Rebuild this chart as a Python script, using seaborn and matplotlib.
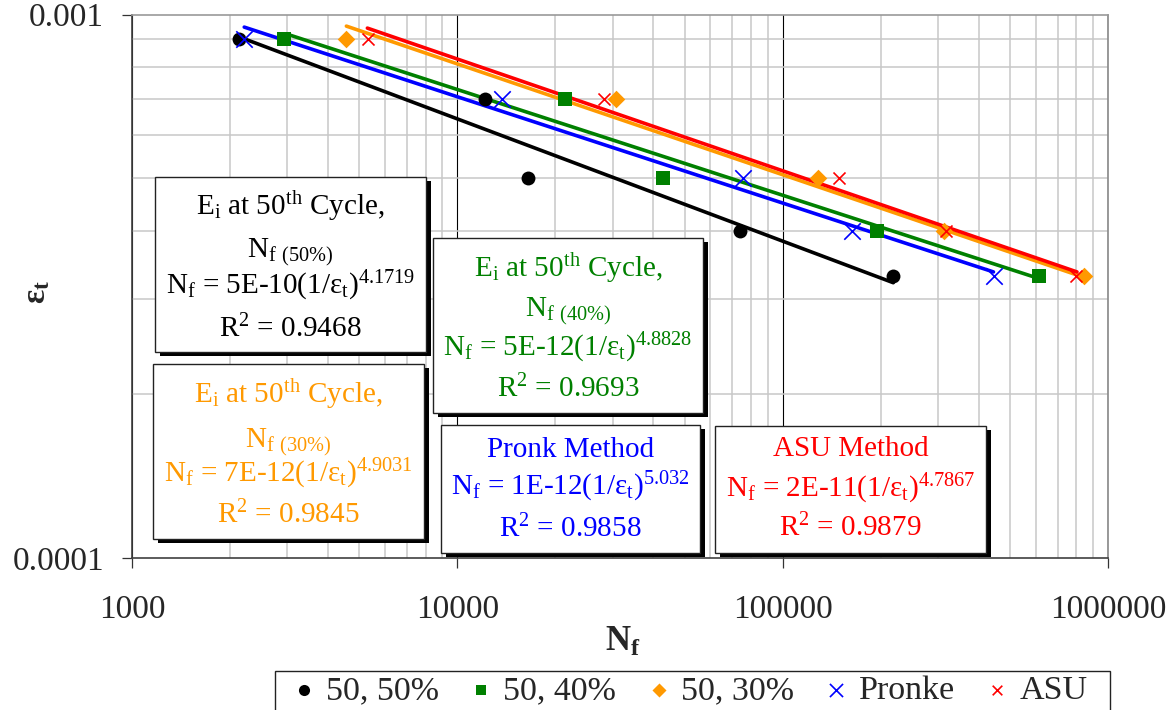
import matplotlib
matplotlib.use("Agg")
import matplotlib.pyplot as plt
import seaborn as sns
from matplotlib.patches import Rectangle
from matplotlib.ticker import FixedLocator, FixedFormatter, LogLocator, NullFormatter

# ---------------------------------------------------------------- data
# tensile strain levels used for every test series
strain = [0.0009, 0.0007, 0.0005, 0.0004, 0.00033]

# cycles to failure at each strain level
nf_50_50 = [2140, 12140, 16500, 73970, 217900]
nf_50_40 = [2940, 21500, 42950, 195000, 613000]
nf_50_30 = [4550, 30660, 128800, 314000, 843000]
nf_pronk = [2210, 13760, 75500, 163300, 445600]
nf_asu = [5330, 28200, 149300, 318000, 799000]

# power-law fatigue trend lines, end points (Nf, strain)
trend_50_50_nf = [2140, 218800]
trend_50_50_eps = [0.000909, 0.000321]
trend_50_40_nf = [2980, 606000]
trend_50_40_eps = [0.000921, 0.0003275]
trend_50_30_nf = [4560, 836000]
trend_50_30_eps = [0.000952, 0.0003290]
trend_pronk_nf = [2213, 444600]
trend_pronk_eps = [0.000948, 0.000336]
trend_asu_nf = [5290, 803000]
trend_asu_eps = [0.000944, 0.000336]

series_labels = ["50, 50%", "50, 40%", "50, 30%", "Pronke", "ASU"]

x_ticks = [1000, 10000, 100000, 1000000]
x_tick_labels = ["1000", "10000", "100000", "1000000"]
y_ticks = [0.0001, 0.001]
y_tick_labels = ["0.0001", "0.001"]

# fatigue model text boxes
box_50_50 = ["E$_i$ at 50$^{th}$ Cycle,", r"N$_{f\ (50\%)}$",
             "N$_f$ = 5E-10(1/ε$_t$)$^{4.1719}$", "R$^2$ = 0.9468"]
box_50_40 = ["E$_i$ at 50$^{th}$ Cycle,", r"N$_{f\ (40\%)}$",
             "N$_f$ = 5E-12(1/ε$_t$)$^{4.8828}$", "R$^2$ = 0.9693"]
box_50_30 = ["E$_i$ at 50$^{th}$ Cycle,", r"N$_{f\ (30\%)}$",
             "N$_f$ = 7E-12(1/ε$_t$)$^{4.9031}$", "R$^2$ = 0.9845"]
box_pronk = ["Pronk Method", "N$_f$ = 1E-12(1/ε$_t$)$^{5.032}$", "R$^2$ = 0.9858"]
box_asu = ["ASU Method", "N$_f$ = 2E-11(1/ε$_t$)$^{4.7867}$", "R$^2$ = 0.9879"]

# ---------------------------------------------------------------- style
BLACK, GREEN, ORANGE, BLUE, RED = "#000000", "#008000", "#FF9900", "#0000FF", "#FF0000"

sns.set_style("white")
plt.rcParams["font.family"] = ["Liberation Serif", "DejaVu Serif"]
plt.rcParams["mathtext.default"] = "regular"
FS_BOX = 21
FS_TICK = 24
FS_LEG = 24.5

W, H = 1175, 710
fig = plt.figure(figsize=(W / 100, H / 100), dpi=100)
AX_L, AX_R, AX_T, AX_B = 132, 1108, 14.5, 558
ax = fig.add_axes([AX_L / W, (H - AX_B) / H, (AX_R - AX_L) / W, (AX_B - AX_T) / H])
ax.set_xscale("log")
ax.set_yscale("log")

# trend lines
for nf, eps, c in [(trend_50_50_nf, trend_50_50_eps, BLACK),
                   (trend_50_40_nf, trend_50_40_eps, GREEN),
                   (trend_50_30_nf, trend_50_30_eps, ORANGE),
                   (trend_pronk_nf, trend_pronk_eps, BLUE),
                   (trend_asu_nf, trend_asu_eps, RED)]:
    sns.lineplot(x=nf, y=eps, ax=ax, color=c, linewidth=2.6, legend=False,
                 zorder=3, sort=False)

# measured points
sns.scatterplot(x=nf_50_50, y=strain, ax=ax, marker="o", s=100, color=BLACK,
                linewidth=0, label=series_labels[0], zorder=5)
sns.scatterplot(x=nf_50_40, y=strain, ax=ax, marker="s", s=90, color=GREEN,
                linewidth=0, label=series_labels[1], zorder=5)
sns.scatterplot(x=nf_50_30, y=strain, ax=ax, marker="D", s=80, color=ORANGE,
                linewidth=0, label=series_labels[2], zorder=5)
sns.scatterplot(x=nf_pronk, y=strain, ax=ax, marker="x", s=140, color=BLUE,
                linewidth=1.2, label=series_labels[3], zorder=5)
sns.scatterplot(x=nf_asu, y=strain, ax=ax, marker="x", s=75, color=RED,
                linewidth=1.2, label=series_labels[4], zorder=5)

# axes
ax.set_xlim(x_ticks[0], x_ticks[-1])
ax.set_ylim(y_ticks[0], y_ticks[-1])
ax.xaxis.set_major_locator(FixedLocator(x_ticks))
ax.xaxis.set_major_formatter(FixedFormatter(x_tick_labels))
ax.yaxis.set_major_locator(FixedLocator(y_ticks))
ax.yaxis.set_major_formatter(FixedFormatter(y_tick_labels))
ax.xaxis.set_minor_locator(LogLocator(base=10, subs=range(2, 10), numticks=20))
ax.yaxis.set_minor_locator(LogLocator(base=10, subs=range(2, 10), numticks=20))
ax.xaxis.set_minor_formatter(NullFormatter())
ax.yaxis.set_minor_formatter(NullFormatter())
ax.tick_params(axis="both", which="major", direction="out", length=7, width=0.9,
               color="#333333", labelsize=FS_TICK, left=True, bottom=True)
ax.tick_params(axis="x", which="major", pad=19)
ax.tick_params(axis="y", which="major", pad=13)
ax.tick_params(axis="both", which="minor", length=0)

ax.grid(True, which="minor", color="#c8c8c8", linewidth=1.1)
ax.grid(True, which="major", axis="x", color="#000000", linewidth=0.8)
ax.set_axisbelow(True)
for side, col in [("left", "#404040"), ("bottom", "#404040"),
                  ("top", "#999999"), ("right", "#888888")]:
    ax.spines[side].set_visible(True)
    ax.spines[side].set_color(col)
    ax.spines[side].set_linewidth(1.2)

ax.set_xlabel("N$_f$", fontsize=25, fontweight="bold")
ax.xaxis.set_label_coords(0.503, -(642 - AX_B) / (AX_B - AX_T))
ax.xaxis.label.set_va("center")
ax.set_ylabel("ε$_t$", fontsize=FS_TICK, fontweight="bold")
ax.yaxis.set_label_coords(-(AX_L - 37) / (AX_R - AX_L), 0.49)
ax.yaxis.label.set_va("center")

# legend below the plot, framed by its own box
handles, labels = ax.get_legend_handles_labels()
if ax.get_legend() is not None:
    ax.get_legend().remove()
leg = fig.legend(handles, labels, loc="upper left",
                 bbox_to_anchor=(290 / W, (H - 675) / H), ncol=5, frameon=False,
                 fontsize=FS_LEG, markerscale=0.8, handletextpad=0.25,
                 columnspacing=0.85, borderaxespad=0, borderpad=0,
                 handlelength=0.8)
fig.add_artist(Rectangle((275 / W, -0.05), (1110 - 275) / W, (H - 671) / H + 0.05,
                         transform=fig.transFigure, facecolor="none",
                         edgecolor="#222222", linewidth=1.0, zorder=4))


# annotation boxes with drop shadow (pixel layout, y measured from top)
def text_box(x0, y0, x1, y1, lines, baselines, color):
    sx, sy = 5, 4
    fig.add_artist(Rectangle(((x0 + sx) / W, (H - y1 - sy) / H), (x1 - x0) / W,
                             (y1 - y0) / H, transform=fig.transFigure,
                             facecolor="black", edgecolor="none", zorder=5))
    fig.add_artist(Rectangle((x0 / W, (H - y1) / H), (x1 - x0) / W, (y1 - y0) / H,
                             transform=fig.transFigure, facecolor="white",
                             edgecolor="#222222", linewidth=1.0, zorder=6))
    cx = (x0 + x1) / 2
    for txt, b in zip(lines, baselines):
        fig.text(cx / W, (H - b) / H, txt, ha="center", va="baseline",
                 fontsize=FS_BOX, color=color, zorder=7)


text_box(155, 177, 426, 352, box_50_50, [215, 257, 294, 337], BLACK)
text_box(153, 364, 424, 539, box_50_30, [403, 447, 482, 523], ORANGE)
text_box(433, 238, 703, 413, box_50_40, [277, 316, 356, 397], GREEN)
text_box(441, 425, 700, 553, box_pronk, [457, 495, 537], BLUE)
text_box(715, 426, 986, 553, box_asu, [456, 497, 536], RED)

fig.savefig("out.png", dpi=100)
